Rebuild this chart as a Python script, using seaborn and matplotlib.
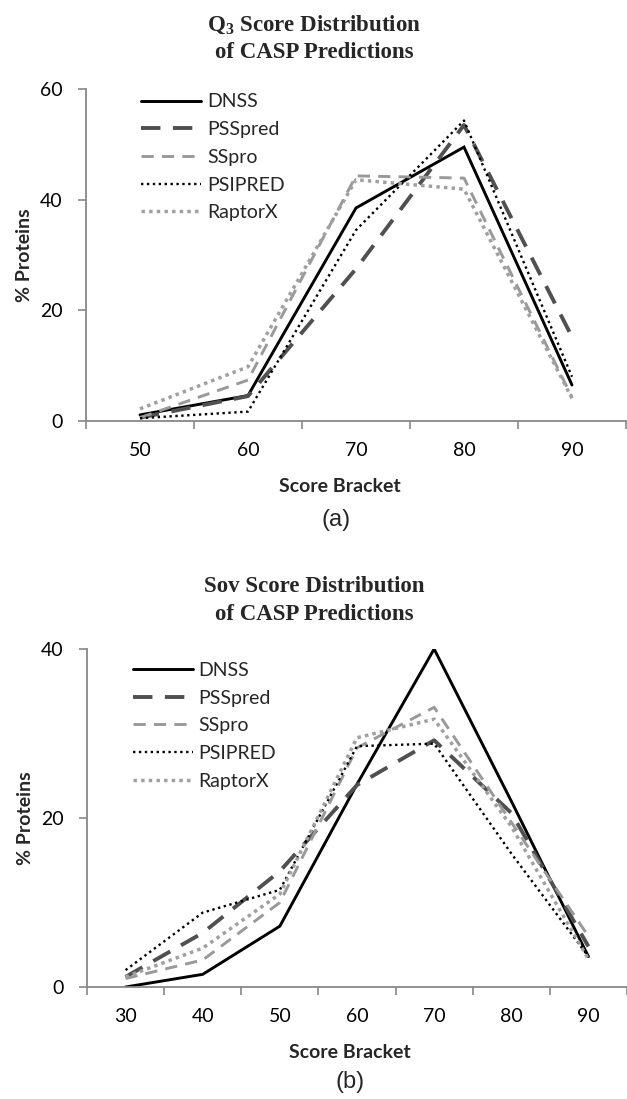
import matplotlib
matplotlib.use("Agg")
import matplotlib.pyplot as plt
import seaborn as sns
import pandas as pd
import numpy as np

# ---------------- data ----------------
q3_brackets = ["50", "60", "70", "80", "90"]
q3_dnss    = [1.1, 4.6, 38.5, 49.5, 6.5]
q3_psspred = [0.6, 4.5, 27.5, 53.5, 15.2]
q3_sspro   = [0.6, 7.4, 44.3, 43.9, 4.3]
q3_psipred = [0.5, 1.7, 34.5, 54.3, 8.0]
q3_raptorx = [2.2, 9.8, 43.6, 41.9, 4.1]

sov_brackets = ["30", "40", "50", "60", "70", "80", "90"]
sov_dnss    = [0.0, 1.5, 7.2, 24.0, 40.0, 22.0, 3.6]
sov_psspred = [1.2, 6.4, 13.7, 23.9, 29.2, 20.6, 4.8]
sov_sspro   = [1.0, 3.2, 10.0, 28.3, 33.1, 19.5, 6.0]
sov_psipred = [2.0, 8.8, 11.5, 28.5, 28.8, 15.8, 3.6]
sov_raptorx = [1.2, 4.6, 11.0, 29.5, 31.7, 19.0, 3.3]

methods = ["DNSS", "PSSpred", "SSpro", "PSIPRED", "RaptorX"]

sns.set_theme(style="white")
plt.rcParams['font.family'] = ['Lato', 'DejaVu Sans']
plt.rcParams['mathtext.fontset'] = 'custom'
plt.rcParams['mathtext.rm'] = 'Liberation Serif:bold'

styles = {
    "DNSS":    dict(color="#000000", lw=2.1, ls="-"),
    "PSSpred": dict(color="#505050", lw=2.8, ls=(0, (5.0, 3.2))),
    "SSpro":   dict(color="#999999", lw=2.1, ls=(0, (4.2, 2.8))),
    "PSIPRED": dict(color="#000000", lw=1.7, ls=(0, (1.0, 1.5))),
    "RaptorX": dict(color="#a0a0a0", lw=2.5, ls=(0, (1.0, 1.2))),
}

fig = plt.figure(figsize=(6.27, 10.99), dpi=100)

W, H = 627.0, 1099.0
def axrect(l, r, t, b):
    return [l / W, 1 - b / H, (r - l) / W, (b - t) / H]

ax1 = fig.add_axes(axrect(86, 626, 89, 421))
ax2 = fig.add_axes(axrect(87, 627, 649, 987))

FS = 14

def draw(ax, brackets, series, ymax, yticks, legend_bbox):
    df = pd.DataFrame({"Score Bracket": brackets})
    for m, vals in zip(methods, series):
        df[m] = vals
    pos = np.arange(len(brackets))
    df["pos"] = pos
    for m in methods:
        st = styles[m]
        sns.lineplot(data=df, x="pos", y=m, ax=ax, color=st["color"],
                     linewidth=st["lw"], linestyle=st["ls"], label=m,
                     solid_joinstyle="miter", dash_capstyle="butt")
    ax.set_xlim(-0.5, len(brackets) - 0.5)
    ax.set_ylim(0, ymax)
    ax.set_xticks(pos)
    ax.set_xticklabels(brackets)
    ax.set_xticks(np.arange(len(brackets) + 1) - 0.5, minor=True)
    ax.set_yticks(yticks)
    ax.set_yticklabels([str(v) for v in yticks])
    ax.tick_params(axis="x", which="major", length=0, pad=15, labelsize=FS,
                   labelcolor="black")
    ax.tick_params(axis="x", which="minor", length=6, width=1.2, color="#888888",
                   direction="out", bottom=True)
    ax.tick_params(axis="y", which="major", length=6, width=1.2, color="#888888",
                   direction="out", left=True, pad=11, labelsize=FS,
                   labelcolor="black")
    for s in ["top", "right"]:
        ax.spines[s].set_visible(False)
    for s in ["left", "bottom"]:
        ax.spines[s].set_color("#888888")
        ax.spines[s].set_linewidth(1.3)
    ax.set_xlabel("")
    ax.set_ylabel("% Proteins", fontsize=FS, fontweight="bold")
    ax.yaxis.set_label_coords(-0.098, 0.5, transform=ax.transAxes)
    ax.patch.set_alpha(0)
    ax.legend(loc="upper left", bbox_to_anchor=legend_bbox, frameon=False,
              fontsize=FS, handlelength=3.1, handletextpad=0.3,
              labelspacing=0.55, borderaxespad=0)
    ax.grid(False)

draw(ax1, q3_brackets, [q3_dnss, q3_psspred, q3_sspro, q3_psipred, q3_raptorx],
     60, [0, 20, 40, 60], (0.087, 1.01))
draw(ax2, sov_brackets, [sov_dnss, sov_psspred, sov_sspro, sov_psipred, sov_raptorx],
     40, [0, 20, 40], (0.07, 0.985))

tfont = dict(family="Liberation Serif", fontweight="bold", fontsize=16.5,
             ha="center", va="center")
fig.text(314 / W, 1 - 25 / H, r"Q$_\mathregular{3}$ Score Distribution", **tfont)
fig.text(314 / W, 1 - 52 / H, "of CASP Predictions", **tfont)
fig.text(314 / W, 1 - 587 / H, "Sov Score Distribution", **tfont)
fig.text(314 / W, 1 - 615 / H, "of CASP Predictions", **tfont)

fig.text(340 / W, 1 - 487 / H, "Score Bracket", fontsize=FS, fontweight="bold",
         ha="center", va="center")
fig.text(350 / W, 1 - 1053 / H, "Score Bracket", fontsize=FS, fontweight="bold",
         ha="center", va="center")
fig.text(336 / W, 1 - 520 / H, "(a)", family="Liberation Sans", fontsize=17,
         ha="center", va="center")
fig.text(350 / W, 1 - 1082 / H, "(b)", family="Liberation Sans", fontsize=17,
         ha="center", va="center")

fig.savefig("out.png", dpi=100)
